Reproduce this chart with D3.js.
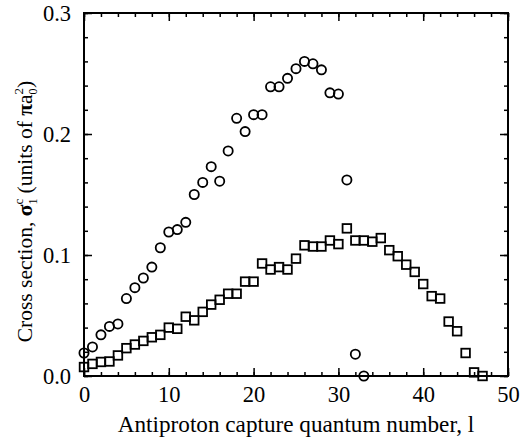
<!DOCTYPE html>
<html>
<head>
<meta charset="utf-8">
<script src="https://cdn.jsdelivr.net/npm/d3@7"></script>
<style>
  body { margin: 0; background: #fff; }
  svg text { font-family: "Liberation Serif", "Times New Roman", serif; fill: #000; }
</style>
</head>
<body>
<div class="canvas"></div>
<script>
// capture quantum number l and cross sections (units of pi a0^2)
const circleL = [0,1,2,3,4,5,6,7,8,9,10,11,12,13,14,15,16,17,18,19,20,21,22,23,24,25,26,27,28,29,30,31,32,33];
const circleSigma = [0.019,0.024,0.034,0.041,0.043,0.064,0.073,0.081,0.090,0.106,0.119,0.121,0.127,0.150,0.160,0.173,0.161,0.186,0.213,0.202,0.216,0.216,0.239,0.239,0.246,0.254,0.260,0.258,0.253,0.234,0.233,0.162,0.018,0.000];

const squareL = [0,1,2,3,4,5,6,7,8,9,10,11,12,13,14,15,16,17,18,19,20,21,22,23,24,25,26,27,28,29,30,31,32,33,34,35,36,37,38,39,40,41,42,43,44,45,46,47];
const squareSigma = [0.0074,0.010,0.0116,0.012,0.017,0.023,0.026,0.029,0.032,0.034,0.040,0.039,0.049,0.046,0.053,0.059,0.063,0.068,0.068,0.078,0.078,0.093,0.088,0.090,0.088,0.097,0.108,0.107,0.107,0.112,0.109,0.122,0.112,0.112,0.111,0.114,0.104,0.099,0.092,0.086,0.076,0.066,0.064,0.045,0.037,0.019,0.003,0.000];

const xMajor = [0, 10, 20, 30, 40, 50];
const xMinor = [0,2,4,6,8,10,12,14,16,18,20,22,24,26,28,30,32,34,36,38,40,42,44,46,48,50];
const yMajor = [0, 0.1, 0.2, 0.3];
const yMinor = [0,0.02,0.04,0.06,0.08,0.1,0.12,0.14,0.16,0.18,0.2,0.22,0.24,0.26,0.28,0.3];

const dims = { width: 522, height: 445 };
const box = { left: 84, right: 508, top: 13, bottom: 376 };

const svg = d3.select('.canvas')
  .append('svg')
    .attr('width', dims.width)
    .attr('height', dims.height)

const x = d3.scaleLinear().domain([0, 50]).range([box.left, box.right]);
const y = d3.scaleLinear().domain([0, 0.3]).range([box.bottom, box.top]);

const noLabel = () => '';

// minor ticks on all four sides
svg.append('g').attr('transform', `translate(0,${box.bottom})`)
  .call(d3.axisBottom(x).tickValues(xMinor).tickSize(-4).tickFormat(noLabel));
svg.append('g').attr('transform', `translate(0,${box.top})`)
  .call(d3.axisTop(x).tickValues(xMinor).tickSize(-4).tickFormat(noLabel));
svg.append('g').attr('transform', `translate(${box.left},0)`)
  .call(d3.axisLeft(y).tickValues(yMinor).tickSize(-4).tickFormat(noLabel));
svg.append('g').attr('transform', `translate(${box.right},0)`)
  .call(d3.axisRight(y).tickValues(yMinor).tickSize(-4).tickFormat(noLabel));

// major ticks
svg.append('g').attr('transform', `translate(0,${box.bottom})`)
  .call(d3.axisBottom(x).tickValues(xMajor).tickSize(-8).tickPadding(10).tickFormat(d3.format('d')));
svg.append('g').attr('transform', `translate(0,${box.top})`)
  .call(d3.axisTop(x).tickValues(xMajor).tickSize(-8).tickFormat(noLabel));
svg.append('g').attr('transform', `translate(${box.left},0)`)
  .call(d3.axisLeft(y).tickValues(yMajor).tickSize(-8).tickPadding(13).tickFormat(d3.format('.1f')));
svg.append('g').attr('transform', `translate(${box.right},0)`)
  .call(d3.axisRight(y).tickValues(yMajor).tickSize(-8).tickFormat(noLabel));

svg.selectAll('.domain').remove();
svg.selectAll('.tick line').attr('stroke', '#000').attr('stroke-width', 1.5);
svg.selectAll('.tick text')
  .style('font-family', '"Liberation Serif", serif')
  .attr('font-size', 22.5)
  .attr('fill', '#000');

svg.append('rect')
  .attr('x', box.left)
  .attr('y', box.top)
  .attr('width', box.right - box.left)
  .attr('height', box.bottom - box.top)
  .attr('fill', 'none')
  .attr('stroke', '#000')
  .attr('stroke-width', 2);

// circles
svg.append('g').selectAll('circle')
  .data(circleL.map((l, i) => ({ l: l, s: circleSigma[i] })))
  .enter()
  .append('circle')
    .attr('cx', d => x(d.l))
    .attr('cy', d => y(d.s))
    .attr('r', 4.6)
    .attr('fill', 'none')
    .attr('stroke', '#000')
    .attr('stroke-width', 1.8);

// squares
const sq = 8.6;
svg.append('g').selectAll('rect')
  .data(squareL.map((l, i) => ({ l: l, s: squareSigma[i] })))
  .enter()
  .append('rect')
    .attr('x', d => x(d.l) - sq / 2)
    .attr('y', d => y(d.s) - sq / 2)
    .attr('width', sq)
    .attr('height', sq)
    .attr('fill', 'none')
    .attr('stroke', '#000')
    .attr('stroke-width', 1.8);

// axis titles
svg.append('text')
  .attr('x', (box.left + box.right) / 2)
  .attr('y', 432)
  .attr('text-anchor', 'middle')
  .attr('font-size', 23.2)
  .text('Antiproton capture quantum number, l');

const yTitle = svg.append('text')
  .attr('transform', 'translate(32,' + ((box.top + box.bottom) / 2 + 17) + ') rotate(-90)')
  .attr('text-anchor', 'middle')
  .attr('font-size', 21.5);
yTitle.append('tspan').text('Cross section, ');
yTitle.append('tspan').text('σ').attr('font-weight', 'bold');
yTitle.append('tspan').text('1').attr('font-size', 12).attr('dy', 5);
yTitle.append('tspan').text('c').attr('font-size', 13).attr('dx', -6).attr('dy', -14);
yTitle.append('tspan').text(' (units of ').attr('dy', 9);
yTitle.append('tspan').text('π').attr('font-weight', 'bold');
yTitle.append('tspan').text('a');
yTitle.append('tspan').text('0').attr('font-size', 12).attr('dy', 5);
yTitle.append('tspan').text('2').attr('font-size', 13).attr('dx', -6).attr('dy', -14);
yTitle.append('tspan').text(')').attr('dy', 9);
</script>
</body>
</html>
